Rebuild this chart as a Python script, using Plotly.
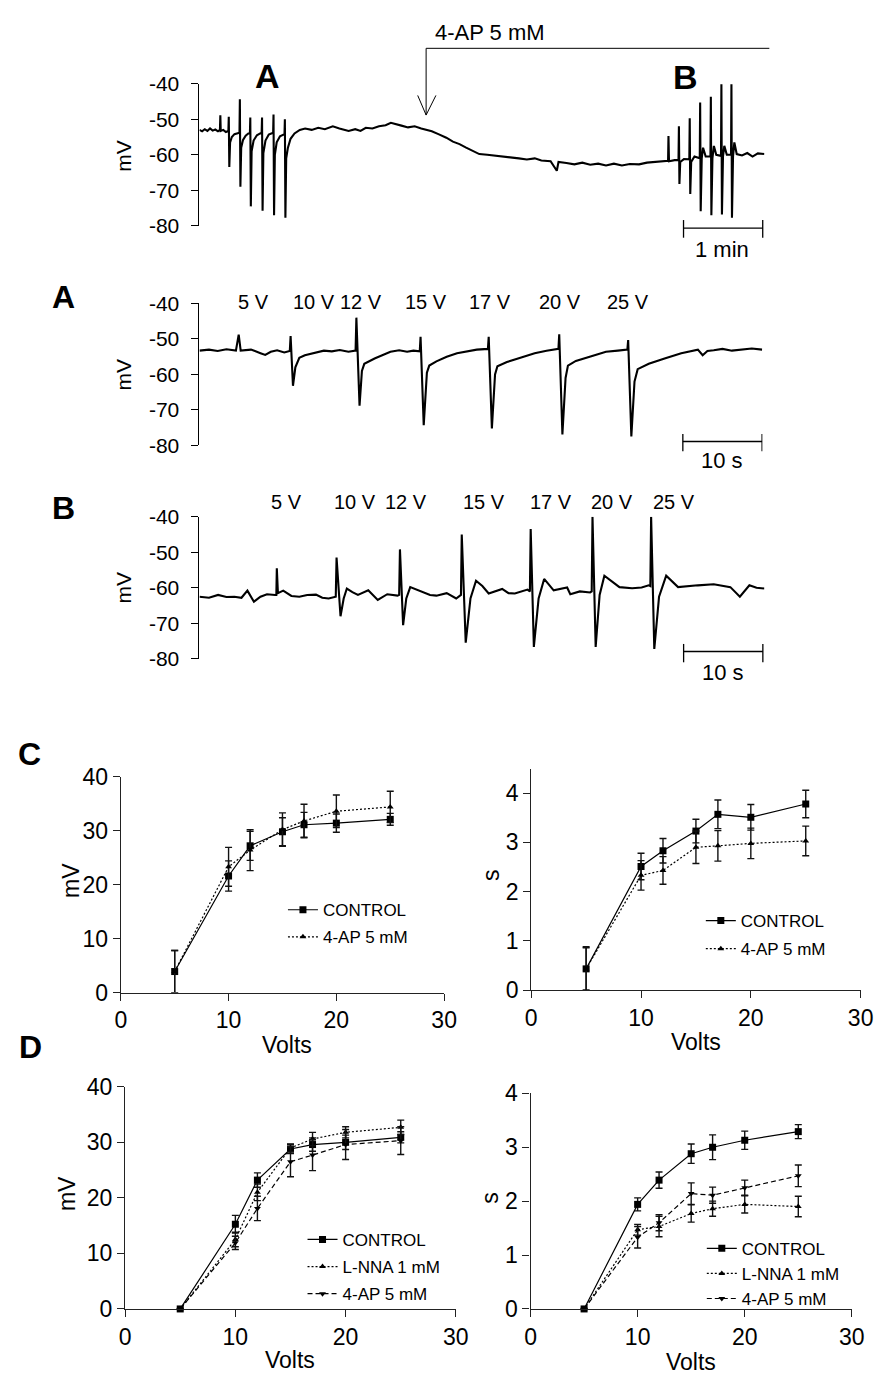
import plotly.graph_objects as go

# ---------------- DATA ----------------
# Top continuous recording: time (s) and membrane potential (mV)
top_t = [0, 2, 4, 6, 8, 10, 12, 14, 15.5, 15.8, 16.1, 18, 20, 21.9, 22.2, 22.6, 23.2, 24.5, 26.5, 28.5,
         30.3, 30.6, 31.0, 31.6, 33.0, 35.0, 37.0, 38.2, 38.5, 38.9, 39.5, 41.0, 43.5, 46.0, 47.1, 47.4,
         47.8, 48.4, 50.0, 52.5, 55.8, 56.1, 56.5, 57.1, 58.5, 61.0, 64.4, 64.7, 65.1, 65.7, 67.0, 69.0,
         72.0, 76.0, 80, 85, 90, 95, 101, 106, 113, 118, 122, 126, 131, 136, 141, 145, 149, 153, 158,
         163, 168, 172, 176, 181, 187, 192, 197, 202, 207, 212, 218, 224, 230, 236, 242, 248, 254, 259,
         266, 270.7, 272, 278, 284, 290, 296, 302, 308, 314, 320, 326, 333, 339, 345, 350,
         355.0, 355.3, 355.7, 360, 362.9, 363.2, 363.6, 364.2, 367, 371.1, 371.4, 371.8, 372.5, 375,
         379.0, 379.3, 379.7, 380.5, 381.5, 383.5, 387.1, 387.4, 387.8, 388.6, 389.7, 391.5,
         395.1, 395.4, 395.8, 396.6, 397.6, 399.5, 402.7, 403.0, 403.4, 404.2, 405.2, 407, 411, 415,
         419, 423, 428]
top_v = [-53.0, -53.4, -52.8, -53.3, -52.6, -53.2, -52.9, -53.4, -53.0, -48.9, -53.3, -53.0, -53.6, -53.3,
         -49.3, -63.4, -56.5, -55.0, -54.2, -54.0,
         -53.8, -44.4, -69.0, -58.0, -55.8, -54.6, -54.0, -54.0, -49.5, -74.5, -59.0, -56.0, -54.5, -54.0,
         -53.8, -49.5,
         -75.7, -59.5, -56.0, -54.3, -53.8, -48.7, -77.0, -60.0, -56.5, -54.8, -54.2, -50.0, -77.7, -61.0,
         -58.0, -55.5,
         -54.0, -53.0, -52.6, -53.0, -52.4, -52.8, -52.0, -52.6, -53.3, -52.8, -53.3, -52.4, -52.6, -52.0,
         -51.7, -51.0, -51.5, -51.8, -52.3,
         -52.0, -52.6, -53.0, -53.4, -54.2, -55.2, -56.3, -57.0, -58.0, -59.0, -59.8, -60.0, -60.2, -60.5,
         -60.7, -61.0, -61.3, -61.0, -61.6,
         -61.8, -64.5, -62.0, -62.3, -62.7, -62.2, -62.8, -62.5, -63.0, -62.5, -63.0, -62.6, -62.7, -62.2,
         -62.0, -61.8,
         -61.7, -54.7, -61.8, -61.5, -61.5, -52.0, -68.2, -62.0, -61.2, -61.3, -49.7, -71.0, -62.0, -60.5,
         -61.0, -45.3, -75.9, -61.0, -58.0, -60.5, -60.5, -43.7, -77.0, -61.0, -57.5, -60.0,
         -60.3, -40.2, -76.8, -60.5, -57.5, -60.0, -60.0, -40.2, -77.7, -60.5, -56.5, -59.8, -60.2, -59.5,
         -60.5, -59.6, -59.8]

# Trace A (control): time (s), mV
a_t = [0, 1.2, 2.3, 3.4, 4.6, 4.95, 5.2, 6.5, 7.7, 8.3, 9.0, 9.8, 10.7, 11.4, 11.5, 11.8, 12.1, 12.6,
       13.3, 14.7, 15.7, 16.7, 17.7, 18.8, 19.7, 19.8, 20.2, 20.5, 20.8, 22.1, 23.1, 24.1, 25.2, 26.2,
       27.0, 27.8, 27.9, 28.3, 28.7, 29.0, 29.9, 31.2, 32.5, 34.0, 35.0, 36.4, 36.5, 36.9, 37.3, 37.6,
       38.8, 40.2, 42.3, 43.8, 45.3, 45.4, 45.8, 46.2, 46.5, 47.5, 48.5, 50.0, 51.3, 52.8, 54.0, 54.1,
       54.5, 54.9, 55.3, 56.7, 57.7, 58.7, 60.8, 62.2, 62.9, 63.5, 64.1, 64.9, 66.0, 67.2, 68.5, 69.7, 71.0]
a_v = [-53.3, -53.0, -53.4, -52.9, -53.3, -48.8, -53.3, -53.0, -54.0, -54.5, -53.6, -53.2, -53.8, -53.4,
       -49.2, -63.2, -58.0, -55.3,
       -54.6, -53.8, -53.3, -53.5, -53.1, -53.6, -53.3, -44.0, -68.8, -59.0, -57.0, -55.5, -54.5, -53.6,
       -53.2, -53.6,
       -53.3, -53.5, -49.4, -74.3, -59.5, -57.5, -56.3, -55.0, -54.0, -53.5, -53.0, -52.8, -49.4, -75.2,
       -60.0, -57.7,
       -56.5, -55.5, -54.0, -53.3, -52.8, -48.7, -76.9, -61.0, -57.5, -56.2, -55.5, -54.5, -53.6, -53.3,
       -53.0, -50.3,
       -77.5, -62.0, -58.5, -57.0, -56.2, -55.5, -54.0, -53.4, -53.0, -54.6, -53.4, -53.2, -52.8, -53.3,
       -52.9, -52.7, -53.0]

# Trace B (4-AP 5 mM): time (s), mV
b_t = [0, 1.2, 2.35, 3.4, 4.4, 5.3, 6.05, 6.87, 7.7, 8.52, 9.55, 9.7, 9.76, 9.9, 10.57, 11.6, 12.6, 13.6,
       14.7, 15.5, 16.3, 17.2, 17.3, 17.8, 18.2, 18.6, 19.3, 20.0, 21.3, 22.5, 23.7, 25.0, 25.2, 25.3,
       25.7, 26.1, 26.6, 27.4, 28.3, 29.1, 29.9, 31.2, 32.4, 33.0, 33.1, 33.6, 34.2, 34.9, 35.7, 36.5,
       38.2, 39.0, 39.8, 41.4, 41.7, 41.8, 42.2, 42.8, 43.5, 44.7, 46.4, 46.8, 48.0, 49.3, 49.5, 49.6,
       50.0, 50.5, 51.1, 53.0, 54.6, 55.8, 56.7, 56.9, 57.0, 57.4, 58.0, 58.9, 60.4, 61.7, 62.9, 64.9,
       67.0, 68.2, 69.4, 70.3, 71.3]
b_v = [-62.5, -62.8, -62.0, -62.6, -62.5, -62.8, -60.8, -63.9, -62.5, -61.8, -62.0, -62.0, -54.5, -61.5,
       -60.8, -62.3, -62.5, -62.0,
       -61.9, -62.8, -63.0, -62.5, -51.5, -68.0, -63.0, -60.2, -61.2, -62.0, -60.7, -63.4, -61.8, -62.2,
       -62.0, -49.2,
       -70.5, -63.0, -59.8, -60.5, -61.2, -62.0, -62.2, -61.5, -63.0, -62.0, -45.0, -75.4, -63.0, -58.0,
       -59.5, -61.6,
       -60.3, -61.5, -61.6, -60.5, -61.0, -43.5, -76.6, -63.0, -57.5, -60.7, -59.9, -61.8, -61.0, -61.3,
       -61.0, -40.0,
       -76.6, -62.0, -56.6, -59.8, -60.1, -59.9, -59.3, -59.5, -40.0, -77.2, -62.5, -56.6, -59.8, -59.5,
       -59.3, -59.0,
       -59.8, -62.5, -59.3, -60.0, -60.2]

trace_ticks = [-80, -70, -60, -50, -40]
trace_ticktext = ['-80', '-70', '-60', '-50', '-40']
stim_labels = ['5 V', '10 V', '12 V', '15 V', '17 V', '20 V', '25 V']

# Summary plots
volts = [5, 10, 12, 15, 17, 20, 25]

c_amp_ctrl = [3.9, 21.6, 27.2, 29.8, 31.1, 31.4, 32.1]
c_amp_ctrl_err = [3.9, 2.8, 2.7, 2.6, 2.3, 1.7, 1.1]
c_amp_4ap = [3.9, 23.3, 26.4, 30.2, 31.8, 33.6, 34.4]
c_amp_4ap_err = [3.9, 3.6, 3.8, 3.1, 3.1, 3.0, 2.9]

c_dur_ctrl = [0.43, 2.51, 2.83, 3.23, 3.57, 3.51, 3.78]
c_dur_ctrl_err = [0.45, 0.27, 0.25, 0.24, 0.29, 0.26, 0.28]
c_dur_4ap = [0.43, 2.33, 2.43, 2.90, 2.93, 2.98, 3.03]
c_dur_4ap_err = [0.43, 0.30, 0.28, 0.33, 0.31, 0.31, 0.30]

d_amp_ctrl = [0, 15.25, 23.2, 28.8, 29.6, 30.0, 30.9]
d_amp_ctrl_err = [0, 1.6, 1.3, 0.8, 1.2, 1.3, 1.0]
d_amp_lnna = [0, 12.5, 21.0, 29.0, 30.6, 31.8, 32.7]
d_amp_lnna_err = [0, 1.3, 1.5, 0.7, 1.2, 1.0, 1.3]
d_amp_4ap = [0, 11.9, 18.1, 26.5, 27.7, 29.6, 30.3]
d_amp_4ap_err = [0, 1.2, 2.2, 2.7, 2.8, 2.7, 2.5]

d_dur_ctrl = [0, 1.94, 2.39, 2.88, 3.00, 3.13, 3.29]
d_dur_ctrl_err = [0, 0.12, 0.15, 0.18, 0.23, 0.17, 0.13]
d_dur_lnna = [0, 1.47, 1.53, 1.77, 1.86, 1.94, 1.90]
d_dur_lnna_err = [0, 0.10, 0.19, 0.16, 0.14, 0.16, 0.19]
d_dur_4ap = [0, 1.33, 1.60, 2.14, 2.11, 2.25, 2.47]
d_dur_4ap_err = [0, 0.20, 0.15, 0.20, 0.15, 0.14, 0.20]

# scale bars (data units of each recording)
scale_top = [366.7, 426.7]   # 1 min
scale_a = [61.0, 71.0]       # 10 s
scale_b = [61.1, 71.1]       # 10 s

# ---------------- LAYOUT HELPERS ----------------
W, H = 889, 1387
F = "Liberation Sans, Arial, Helvetica, sans-serif"


def px(p):
    return p / W


def py(p):
    return 1 - p / H


def dom_x(a, b):
    return [px(a), px(b)]


def dom_y(top, bottom):
    return [py(bottom), py(top)]


fig = go.Figure()

# recordings
for i, (t, v) in enumerate([(top_t, top_v), (a_t, a_v), (b_t, b_v)], start=1):
    fig.add_trace(go.Scatter(x=t, y=v, mode='lines', line=dict(color='black', width=2.1),
                             xaxis=f'x{i}', yaxis=f'y{i}', showlegend=False, hoverinfo='skip'))


def series(x, y, err, name, sym, dash, ax, leg, size=7):
    fig.add_trace(go.Scatter(
        x=x, y=y, name=name, mode='lines+markers',
        line=dict(color='black', width=1.2, dash=dash),
        marker=dict(symbol=sym, size=size, color='black'),
        error_y=dict(type='data', array=err, color='#111111', thickness=1.4, width=3.5),
        xaxis=f'x{ax}', yaxis=f'y{ax}', legend=leg, legendgroup=f'{leg}_{name}',
        cliponaxis=False, hoverinfo='skip'))


series(volts, c_amp_ctrl, c_amp_ctrl_err, 'CONTROL', 'square', 'solid', 4, 'legend')
series(volts, c_amp_4ap, c_amp_4ap_err, '4-AP 5 mM', 'triangle-up', '2px,2px', 4, 'legend', 6)
series(volts, c_dur_ctrl, c_dur_ctrl_err, 'CONTROL', 'square', 'solid', 5, 'legend2')
series(volts, c_dur_4ap, c_dur_4ap_err, '4-AP 5 mM', 'triangle-up', '2px,2px', 5, 'legend2', 6)
series(volts, d_amp_ctrl, d_amp_ctrl_err, 'CONTROL', 'square', 'solid', 6, 'legend3')
series(volts, d_amp_lnna, d_amp_lnna_err, 'L-NNA 1 mM', 'triangle-up', '2px,2px', 6, 'legend3', 6)
series(volts, d_amp_4ap, d_amp_4ap_err, '4-AP 5 mM', 'triangle-down', '5px,3px', 6, 'legend3', 6)
series(volts, d_dur_ctrl, d_dur_ctrl_err, 'CONTROL', 'square', 'solid', 7, 'legend4')
series(volts, d_dur_lnna, d_dur_lnna_err, 'L-NNA 1 mM', 'triangle-up', '2px,2px', 7, 'legend4', 6)
series(volts, d_dur_4ap, d_dur_4ap_err, '4-AP 5 mM', 'triangle-down', '5px,3px', 7, 'legend4', 6)

layout = dict(width=W, height=H, margin=dict(l=0, r=0, t=0, b=0),
              paper_bgcolor='white', plot_bgcolor='white',
              font=dict(family=F, color='black'))

# recording axes
rec = [(1, [197.7, 775], [72, 217], [0, 428]),
       (2, [197.7, 773], [296, 440.7], [0, 71.05]),
       (3, [197.7, 775], [513.3, 658.3], [0, 71.3])]
for i, dx, dy, rx in rec:
    layout[f'xaxis{i}'] = dict(domain=dom_x(*dx), range=rx, visible=False, anchor=f'y{i}')
    layout[f'yaxis{i}'] = dict(domain=dom_y(*dy), range=[-80, -40], anchor=f'x{i}',
                               tickvals=trace_ticks, ticktext=trace_ticktext,
                               showline=True, linecolor='black', linewidth=1,
                               ticks='outside', ticklen=7, tickwidth=1, tickcolor='black',
                               showgrid=False, zeroline=False, ticklabelstandoff=8,
                               tickfont=dict(size=21, family=F, color='black'))

# summary axes
summ = [(4, [117.3, 447.7], [778.3, 998.3], [0, 40], [0, 10, 20, 30, 40]),
        (5, [536.7, 873.3], [770, 995.7], [0, 4.5], [0, 1, 2, 3, 4]),
        (6, [121.7, 459.7], [1094.3, 1320.7], [0, 40], [0, 10, 20, 30, 40]),
        (7, [536, 864.3], [1101, 1320.7], [0, 4], [0, 1, 2, 3, 4])]
for i, dx, dy, ry, ty in summ:
    common = dict(showline=True, linecolor='#222222', linewidth=1.4, ticks='outside', ticklen=7,
                  tickwidth=1.3, tickcolor='#222222', showgrid=False, zeroline=False,
                  tickfont=dict(size=23, family=F, color='black'))
    layout[f'xaxis{i}'] = dict(domain=dom_x(*dx), range=[0, 30], tickvals=[0, 10, 20, 30],
                               anchor=f'y{i}', **common)
    layout[f'yaxis{i}'] = dict(domain=dom_y(*dy), range=ry, tickvals=ty, anchor=f'x{i}', **common)

leg_common = dict(xanchor='left', yanchor='top', bgcolor='rgba(0,0,0,0)',
                  font=dict(size=17, family=F, color='black'), itemwidth=30,
                  traceorder='grouped')
layout['legend'] = dict(x=px(283), y=py(896), tracegroupgap=2, **leg_common)
layout['legend2'] = dict(x=px(710), y=py(907), tracegroupgap=3, **leg_common)
layout['legend3'] = dict(x=px(303), y=py(1232), tracegroupgap=2, **leg_common)
layout['legend4'] = dict(x=px(711), y=py(1241), tracegroupgap=0, **leg_common)

fig.update_layout(**layout)

ann = []


def text(x, y, s, size, bold=False, angle=0):
    ann.append(dict(x=px(x), y=py(y), xref='paper', yref='paper', text=f'<b>{s}</b>' if bold else s,
                    showarrow=False, xanchor='center', yanchor='middle', textangle=angle,
                    font=dict(size=size, family=F, color='black')))


# panel letters
text(59, 289, 'A', 32, True)
text(59, 504, 'B', 32, True)
text(24, 755, 'C', 32, True)
text(25, 1054, 'D', 32, True)
text(267, 64, 'A', 34, True)
text(694, 65, 'B', 34, True)

# recording labels
text(495, 20, '4-AP 5 mM', 22)
for yy in [145, 368, 585]:
    text(120, yy, 'mV', 21, angle=-90)
for lab, xx in zip(stim_labels, [252.5, 315, 362.5, 429, 495, 566, 636]):
    text(xx, 295, lab, 20)
for lab, xx in zip(stim_labels, [287, 357, 409, 488, 557, 619, 683]):
    text(xx, 498, lab, 20)
text(732, 241, '1 min', 22)
text(732, 456, '10 s', 22)
text(733, 672, '10 s', 22)

# summary titles
text(67, 884, 'mV', 23, angle=-90)
text(495, 878, 's', 23, angle=-90)
text(63, 1203, 'mV', 23, angle=-90)
text(495, 1207, 's', 23, angle=-90)
text(287, 1052, 'Volts', 23)
text(705, 1049, 'Volts', 23)
text(290, 1373, 'Volts', 23)
text(700, 1375, 'Volts', 23)

shapes = []


def seg(x0, y0, x1, y1, w=1.2, xref='paper'):
    shapes.append(dict(type='line', xref=xref, yref='paper',
                       x0=x0 if xref != 'paper' else px(x0), x1=x1 if xref != 'paper' else px(x1),
                       y0=py(y0), y1=py(y1), line=dict(color='black', width=w)))


# 4-AP application bar with arrow
seg(429.3, 36, 780, 36, 1)
seg(429.3, 36, 429.3, 104, 1)
seg(420.7, 84, 429.3, 104, 1)
seg(439.3, 84, 429.3, 104, 1)

# scale bars
for (x0, x1), ref, yb, yt0, yt1 in [(scale_top, 'x', 219.3, 211, 229),
                                    (scale_a, 'x2', 436.7, 429, 446.7),
                                    (scale_b, 'x3', 650.7, 643, 661.7)]:
    seg(x0, yb, x1, yb, 1.3, ref)
    seg(x0, yt0, x0, yt1, 1.3, ref)
    seg(x1, yt0, x1, yt1, 1.3, ref)

fig.update_layout(annotations=ann, shapes=shapes)
fig.write_html('out.html')
